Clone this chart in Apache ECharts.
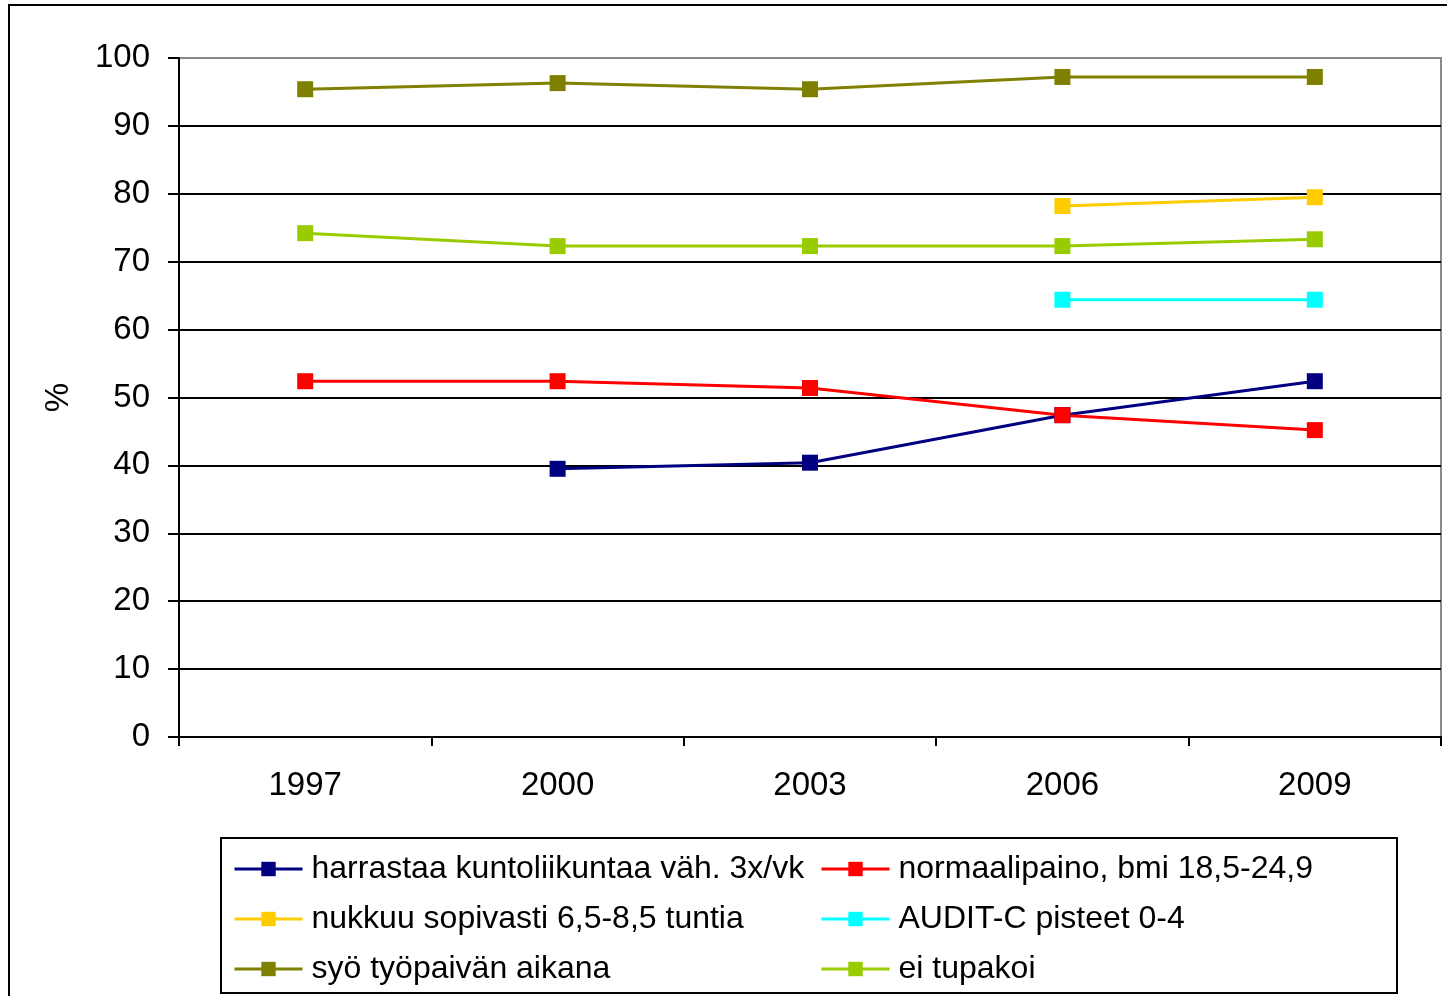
<!DOCTYPE html>
<html><head><meta charset="utf-8">
<script src="https://cdn.jsdelivr.net/npm/echarts@6/dist/echarts.min.js"></script>
<style>html,body{margin:0;padding:0;background:#fff}#c{width:1447px;height:996px}</style>
</head><body><div id="c"></div>
<script>
var years = ['1997','2000','2003','2006','2009'];
var harrastaa = [null, 39.5, 40.4, 47.4, 52.4];
var normaalipaino = [52.4, 52.4, 51.4, 47.4, 45.2];
var nukkuu = [null, null, null, 78.2, 79.5];
var audit = [null, null, null, 64.4, 64.4];
var syo = [95.4, 96.3, 95.4, 97.2, 97.2];
var tupakoi = [74.2, 72.3, 72.3, 72.3, 73.3];
var names = ['harrastaa kuntoliikuntaa väh. 3x/vk','normaalipaino, bmi 18,5-24,9','nukkuu sopivasti 6,5-8,5 tuntia','AUDIT-C pisteet 0-4','syö työpaivän aikana','ei tupakoi'];
var colors = ['#000080','#FF0000','#FFCC00','#00FFFF','#808000','#99CC00'];
var values = [harrastaa, normaalipaino, nukkuu, audit, syo, tupakoi];

var font = 'Liberation Sans, Arial, sans-serif';
var series = values.map(function(v,i){
  return {name:names[i], type:'line', data:v, symbol:'rect', symbolSize:16,
    itemStyle:{color:colors[i]}, lineStyle:{color:colors[i], width:3},
    connectNulls:false, animation:false, z:3};
});
var gridColors = [];
for (var i=0;i<10;i++) gridColors.push('#000');
gridColors.push('#888');
var legendBase = {orient:'vertical', itemWidth:68, itemHeight:18, itemGap:18,
  lineStyle:{width:3}, itemStyle:{borderWidth:0},
  textStyle:{fontFamily:font, fontSize:32, color:'#000', padding:[0,0,0,4]}, selectedMode:false};
var chart = echarts.init(document.getElementById('c'));
chart.setOption({
  backgroundColor:'#fff',
  grid:{left:179, top:58, right:6, bottom:259, show:true, borderColor:'#888', borderWidth:2},
  xAxis:{type:'category', data:years, boundaryGap:true,
    axisLine:{lineStyle:{color:'#000', width:2}},
    axisTick:{show:true, alignWithLabel:false, interval:0, length:9, lineStyle:{color:'#000', width:2}},
    axisLabel:{fontFamily:font, fontSize:33, color:'#000', margin:32}},
  yAxis:{type:'value', min:0, max:100, interval:10, name:'%', nameLocation:'middle', nameGap:104,
    nameRotate:90, nameTextStyle:{fontFamily:font, fontSize:33, color:'#000'},
    axisLine:{show:true, lineStyle:{color:'#000', width:2}},
    axisTick:{show:true, length:11, lineStyle:{color:'#000', width:2}},
    axisLabel:{fontFamily:font, fontSize:33, color:'#000', margin:29},
    splitLine:{lineStyle:{color:gridColors, width:2}}},
  legend:[
    Object.assign({}, legendBase, {left:228, top:848, data:[names[0],names[2],names[4]]}),
    Object.assign({}, legendBase, {left:815, top:848, data:[names[1],names[3],names[5]]})
  ],
  graphic:[
    {type:'rect', shape:{x:9, y:5, width:1500, height:1100}, style:{fill:null, stroke:'#000', lineWidth:2}, z:-1},
    {type:'rect', shape:{x:221, y:838, width:1176, height:155}, style:{fill:'#fff', stroke:'#000', lineWidth:2}, z:0}
  ],
  series:series
});
</script></body></html>
